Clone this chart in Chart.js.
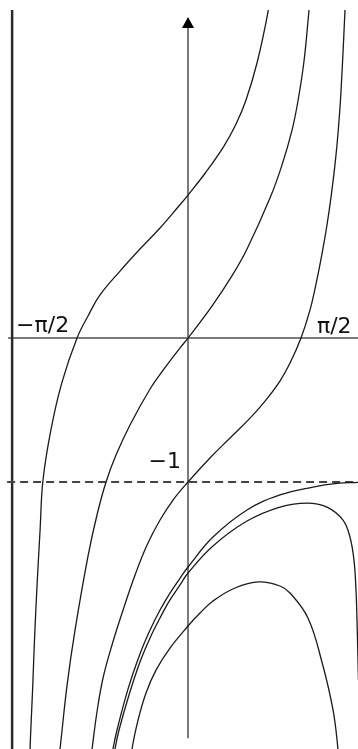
<!DOCTYPE html>
<html>
<head>
<meta charset="utf-8">
<script src="https://cdn.jsdelivr.net/npm/chart.js@4"></script>
<style>
  html, body { margin: 0; padding: 0; background: #fff; }
  canvas { display: block; }
</style>
</head>
<body>
<canvas id="curves" width="358" height="749"></canvas>
<script>
// solution curves, x in radians
const curveAX = [-1.415, -1.406, -1.388, -1.371, -1.348, -1.321, -1.295, -1.223, -1.125, -0.991, -0.893, -0.786, -0.607, -0.429, -0.250, -0.089, 0, 0.161, 0.321, 0.429, 0.518, 0.616, 0.714, 0.741];
const curveAY = [-2.965, -2.757, -2.444, -2.097, -1.715, -1.333, -0.986, -0.632, -0.306, 0, 0.153, 0.299, 0.465, 0.618, 0.764, 0.910, 0.993, 1.153, 1.333, 1.486, 1.653, 1.910, 2.264, 2.431];

const curveBX = [-1.161, -1.143, -1.080, -1.009, -0.893, -0.813, -0.732, -0.643, -0.518, -0.339, -0.214, -0.071, 0, 0.214, 0.402, 0.527, 0.732, 0.839, 0.929, 0.982, 1.036, 1.080, 1.098];
const curveBY = [-2.965, -2.854, -2.410, -2.028, -1.514, -1.229, -1.000, -0.813, -0.604, -0.354, -0.215, -0.069, 0, 0.222, 0.444, 0.618, 0.972, 1.201, 1.444, 1.646, 1.924, 2.271, 2.417];

const curveCX = [-0.875, -0.857, -0.813, -0.759, -0.679, -0.580, -0.473, -0.366, -0.250, -0.134, 0, 0.196, 0.375, 0.554, 0.688, 0.821, 0.911, 1.009, 1.089, 1.143, 1.196, 1.241, 1.277, 1.313, 1.339, 1.366, 1.402, 1.411];
const curveCY = [-2.965, -2.854, -2.597, -2.361, -2.132, -1.889, -1.646, -1.438, -1.264, -1.125, -1.000, -0.833, -0.694, -0.556, -0.438, -0.299, -0.174, 0, 0.194, 0.375, 0.583, 0.785, 0.979, 1.208, 1.417, 1.708, 2.278, 2.431];

const curveDX = [-0.688, -0.670, -0.634, -0.536, -0.429, -0.339, -0.250, -0.161, -0.071, 0, 0.223, 0.527, 0.821, 1.116, 1.330, 1.518];
const curveDY = [-2.965, -2.854, -2.722, -2.438, -2.194, -2.028, -1.889, -1.771, -1.667, -1.590, -1.382, -1.194, -1.090, -1.035, -1.010, -1.003];

const curveEX = [-0.670, -0.652, -0.616, -0.527, -0.429, -0.339, -0.250, -0.161, -0.071, 0, 0.223, 0.527, 0.821, 1.063, 1.241, 1.384, 1.446, 1.482, 1.500, 1.509, 1.522];
const curveEY = [-2.965, -2.854, -2.722, -2.479, -2.250, -2.083, -1.944, -1.819, -1.715, -1.632, -1.444, -1.271, -1.174, -1.146, -1.174, -1.264, -1.382, -1.542, -1.750, -1.958, -2.375];

const curveFX = [-0.509, -0.500, -0.446, -0.375, -0.286, -0.161, 0, 0.107, 0.223, 0.420, 0.634, 0.821, 0.911, 1.071, 1.196, 1.295, 1.339, 1.348];
const curveFY = [-2.965, -2.854, -2.653, -2.465, -2.306, -2.153, -2.000, -1.910, -1.826, -1.736, -1.694, -1.722, -1.771, -1.944, -2.250, -2.583, -2.854, -2.965];

const curves = [
  [curveAX, curveAY], [curveBX, curveBY], [curveCX, curveCY],
  [curveDX, curveDY], [curveEX, curveEY], [curveFX, curveFY]
];

// reference lines and their labels
const halfPi = Math.PI / 2;
const asymptoteY = -1;
const xLabels = ['\u2212\u03c0/2', '\u03c0/2'];
const yLabel = '\u22121';

const axesPlugin = {
  id: 'axes',
  beforeDatasetsDraw(chart) {
    const { ctx, scales: { x, y }, chartArea } = chart;
    const x0 = x.getPixelForValue(0);
    const y0 = y.getPixelForValue(0);
    const xl = x.getPixelForValue(-halfPi);
    const yd = y.getPixelForValue(asymptoteY);
    ctx.save();

    // horizontal axis
    ctx.strokeStyle = '#7a7a7a';
    ctx.lineWidth = 2;
    ctx.beginPath();
    ctx.moveTo(xl - 4, y0);
    ctx.lineTo(chartArea.right, y0);
    ctx.stroke();

    // vertical axis with arrow head
    const tipY = y.getPixelForValue(2.23);
    ctx.beginPath();
    ctx.moveTo(x0, tipY + 10);
    ctx.lineTo(x0, y.getPixelForValue(-2.78));
    ctx.stroke();
    ctx.fillStyle = '#000';
    ctx.beginPath();
    ctx.moveTo(x0, tipY);
    ctx.lineTo(x0 - 6, tipY + 11);
    ctx.lineTo(x0 + 6, tipY + 11);
    ctx.closePath();
    ctx.fill();

    // x = -pi/2
    ctx.strokeStyle = '#2b2b2b';
    ctx.lineWidth = 2.5;
    ctx.beginPath();
    ctx.moveTo(xl, chartArea.top);
    ctx.lineTo(xl, chartArea.bottom);
    ctx.stroke();

    // y = -1
    ctx.strokeStyle = '#444';
    ctx.lineWidth = 2;
    ctx.setLineDash([8, 5]);
    ctx.beginPath();
    ctx.moveTo(xl - 5, yd);
    ctx.lineTo(chartArea.right, yd);
    ctx.stroke();
    ctx.restore();
  },
  afterDraw(chart) {
    const { ctx, scales: { x, y } } = chart;
    const y0 = y.getPixelForValue(0);
    ctx.save();
    ctx.fillStyle = '#111';
    ctx.font = '22px "DejaVu Sans"';
    ctx.textBaseline = 'alphabetic';
    ctx.textAlign = 'left';
    ctx.fillText(xLabels[0], x.getPixelForValue(-halfPi) + 4, y0 - 6);
    ctx.fillText(xLabels[1], x.getPixelForValue(halfPi) - 47, y0 - 5);
    ctx.textAlign = 'right';
    ctx.fillText(yLabel, x.getPixelForValue(0) - 7, y.getPixelForValue(asymptoteY) - 14);
    ctx.restore();
  }
};

new Chart(document.getElementById('curves'), {
  type: 'scatter',
  data: {
    datasets: curves.map(([xs, ys]) => ({
      data: xs.map((v, i) => ({ x: v, y: ys[i] })),
      showLine: true,
      borderColor: '#1a1a1a',
      borderWidth: 1.3,
      pointRadius: 0,
      tension: 0.4
    }))
  },
  options: {
    responsive: false,
    animation: false,
    devicePixelRatio: 1,
    layout: { padding: { top: 10, left: 0, right: 0, bottom: 0 } },
    elements: { line: { capBezierPoints: false } },
    scales: {
      x: { type: 'linear', display: false, min: -1.679, max: 1.518 },
      y: { type: 'linear', display: false, min: -2.854, max: 2.278 }
    },
    plugins: { legend: { display: false }, tooltip: { enabled: false } }
  },
  plugins: [axesPlugin]
});
</script>
</body>
</html>
